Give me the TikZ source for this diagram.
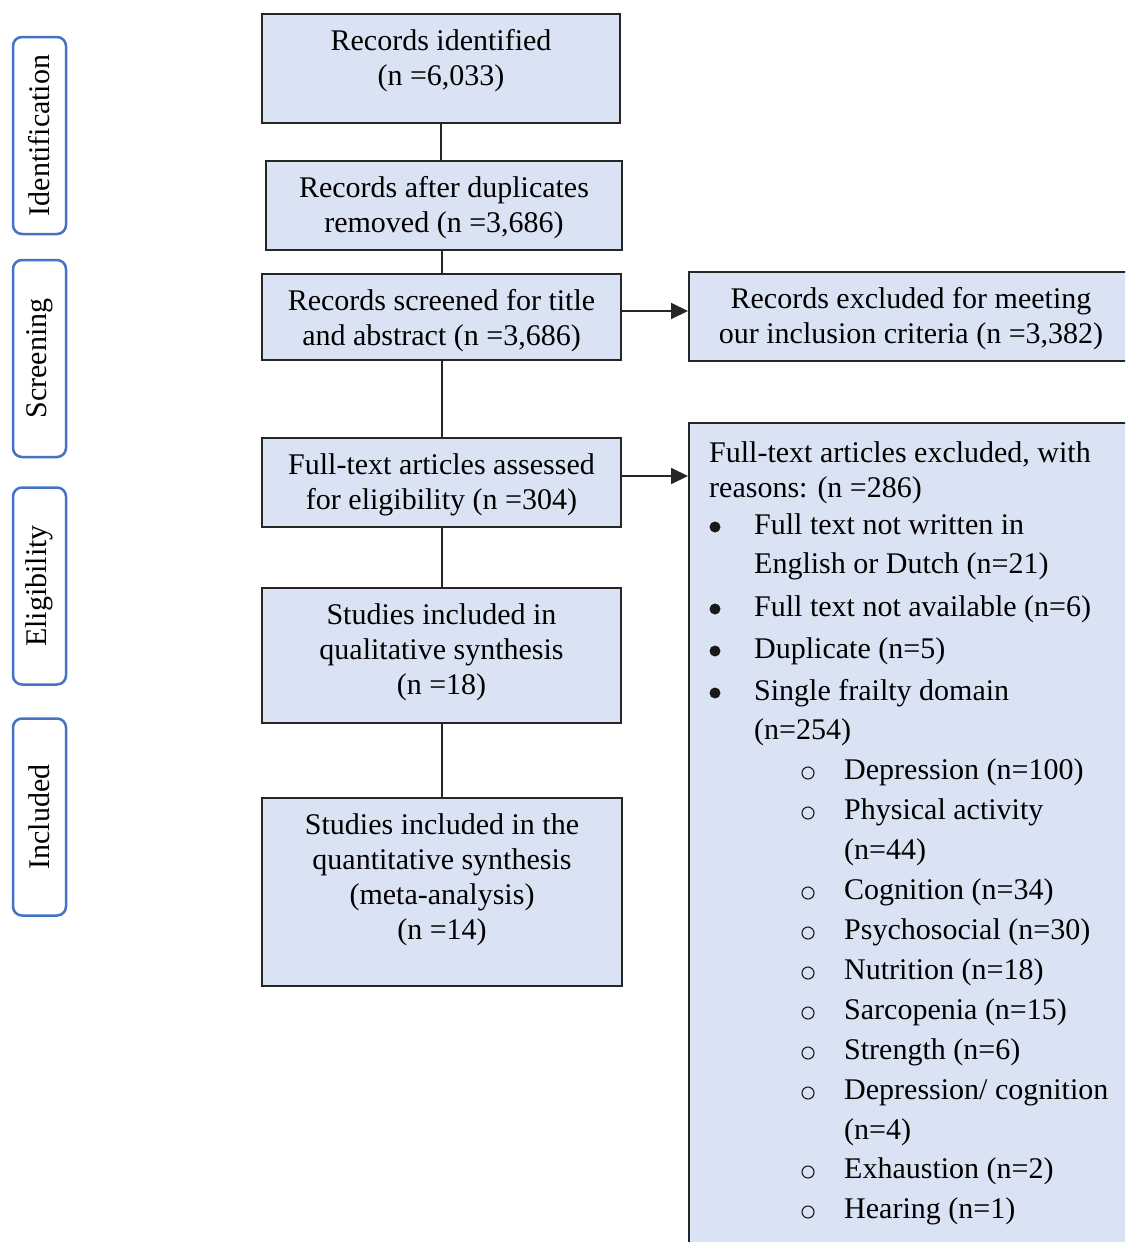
\documentclass[tikz,border=0pt]{standalone}
\usepackage{fontspec}
\setmainfont{Liberation Serif}
\usetikzlibrary{arrows.meta,positioning,calc}
\definecolor{boxfill}{HTML}{DAE3F3}
\definecolor{stageblue}{HTML}{4472C4}

\begin{document}
\begin{tikzpicture}[x=1pt, y=-1pt, font=\fontsize{30}{35}\selectfont,
    flowbox/.style={draw=black!85, line width=2pt, fill=boxfill, anchor=north west, inner sep=0pt},
    boxtext/.style={anchor=north, align=center, inner sep=0pt, execute at begin node=\strut},
    stage/.style={draw=stageblue, line width=2.5pt, rounded corners=9pt, fill=white, rotate=90,
      minimum width=197pt, minimum height=53pt, inner sep=0pt},
    link/.style={line width=2pt, draw=black!85},
    item/.style={anchor=base west, inner sep=0pt},
    dot/.style={circle, fill=black!90, minimum size=11pt, inner sep=0pt},
    ring/.style={circle, draw=black!90, line width=1.1pt, minimum size=12pt, inner sep=0pt}]
    \useasboundingbox (0,0) rectangle (1125,1242);
    \begin{scope}
    \clip (0,0) rectangle (1125,1242);

    % Stage labels on the left
    \node[stage] (identification) at (39.5,135.5) {Identification};
    \node[stage] (screening) at (39.5,358.5) {Screening};
    \node[stage] (eligibility) at (39.5,586) {Eligibility};
    \node[stage] (included) at (39.5,817) {Included};

    % Main column
    \node[flowbox, minimum width=358pt, minimum height=109pt] (ident) at (261,13) {};
    \node[boxtext, below=16pt of ident.north] (identtxt) {Records identified\\(n =6,033)};
    \node[flowbox, minimum width=356pt, minimum height=89pt] (dedup) at (265,160) {};
    \node[boxtext, below=16pt of dedup.north] (deduptxt) {Records after duplicates\\removed (n =3,686)};
    \node[flowbox, minimum width=359pt, minimum height=86pt] (screen) at (261,273) {};
    \node[boxtext, below=16pt of screen.north] (screentxt) {Records screened for title\\and abstract (n =3,686)};
    \node[flowbox, minimum width=359pt, minimum height=89pt] (full) at (261,437) {};
    \node[boxtext, below=16pt of full.north] (fulltxt) {Full-text articles assessed\\for eligibility (n =304)};
    \node[flowbox, minimum width=359pt, minimum height=135pt] (qual) at (261,587) {};
    \node[boxtext, below=16pt of qual.north] (qualtxt) {Studies included in\\qualitative synthesis\\(n =18)};
    \node[flowbox, minimum width=360pt, minimum height=188pt] (quant) at (261,797) {};
    \node[boxtext, below=16pt of quant.north] (quanttxt) {Studies included in the\\quantitative synthesis\\(meta-analysis)\\(n =14)};

    % Exclusion boxes on the right
    \node[flowbox, minimum width=444pt, minimum height=89pt] (excl) at (688,271) {};
    \node[boxtext, below=16pt of excl.north] (excltxt) {Records excluded for meeting\\our inclusion criteria (n =3,382)};
    \node[flowbox, minimum width=444pt, minimum height=840pt] (fullexcl) at (688,422) {};

    % Reasons list
    \node[item] (head1) at (709,462) {Full-text articles excluded, with};
    \node[item] (head2) at (709,497) {reasons: (n =286)};
    \foreach \y in {534,616,658,700}
      \node[dot] (bul\y) at (715,\y-7) {};
    \foreach \y/\txt in {534/{Full text not written in}, 573/{English or Dutch (n=21)},
        616/{Full text not available (n=6)}, 658/{Duplicate (n=5)},
        700/{Single frailty domain}, 739/{(n=254)}}
      \node[item] (reason\y) at (754,\y) {\txt};
    \foreach \y in {779,819,899,939,979,1019,1059,1099,1178,1218}
      \node[ring] (sub\y) at (808,\y-6) {};
    \foreach \y/\txt in {779/{Depression (n=100)}, 819/{Physical activity}, 859/{(n=44)},
        899/{Cognition (n=34)}, 939/{Psychosocial (n=30)}, 979/{Nutrition (n=18)},
        1019/{Sarcopenia (n=15)}, 1059/{Strength (n=6)}, 1099/{Depression/ cognition},
        1139/{(n=4)}, 1178/{Exhaustion (n=2)}, 1218/{Hearing (n=1)}}
      \node[item] (domain\y) at (844,\y) {\txt};

    % Connectors
    \draw[link] (ident.south) -- (ident.south |- dedup.north);
    \draw[link] (dedup.south -| screen.north) -- (screen.north);
    \draw[link] (screen.south) -- (full.north);
    \draw[link] (full.south) -- (qual.north);
    \draw[link] (qual.south) -- (qual.south |- quant.north);
    \draw[link, -{Triangle[length=17pt, width=16pt]}] ([yshift=6pt]screen.east) -- ([yshift=6pt]screen.east -| excl.west);
    \draw[link, -{Triangle[length=17pt, width=16pt]}] ([yshift=6.5pt]full.east) -- ([yshift=6.5pt]full.east -| fullexcl.west);
    \end{scope}
\end{tikzpicture}
\end{document}
